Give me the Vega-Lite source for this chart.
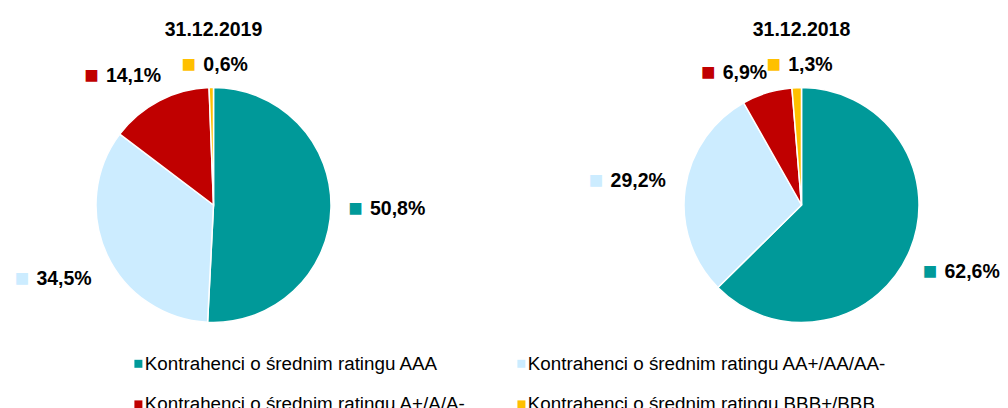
{
  "$schema": "https://vega.github.io/schema/vega-lite/v6.json",
  "background": "white",
  "padding": {"left": 4, "top": 19, "right": 0, "bottom": 0},
  "data": {
    "values": [
      {"date": "31.12.2019", "category": "Kontrahenci o średnim ratingu AAA", "rank": 1, "value": 50.8, "label": "50,8%"},
      {"date": "31.12.2019", "category": "Kontrahenci o średnim ratingu AA+/AA/AA-", "rank": 2, "value": 34.5, "label": "34,5%"},
      {"date": "31.12.2019", "category": "Kontrahenci o średnim ratingu A+/A/A-", "rank": 3, "value": 14.1, "label": "14,1%"},
      {"date": "31.12.2019", "category": "Kontrahenci o średnim ratingu BBB+/BBB", "rank": 4, "value": 0.6, "label": "0,6%"},
      {"date": "31.12.2018", "category": "Kontrahenci o średnim ratingu AAA", "rank": 1, "value": 62.6, "label": "62,6%"},
      {"date": "31.12.2018", "category": "Kontrahenci o średnim ratingu AA+/AA/AA-", "rank": 2, "value": 29.2, "label": "29,2%"},
      {"date": "31.12.2018", "category": "Kontrahenci o średnim ratingu A+/A/A-", "rank": 3, "value": 6.9, "label": "6,9%"},
      {"date": "31.12.2018", "category": "Kontrahenci o średnim ratingu BBB+/BBB", "rank": 4, "value": 1.3, "label": "1,3%"}
    ]
  },
  "facet": {
    "column": {
      "field": "date",
      "type": "nominal",
      "sort": ["31.12.2019", "31.12.2018"],
      "header": {
        "title": null,
        "labelFont": "Liberation Sans",
        "labelFontSize": 19.5,
        "labelFontWeight": "bold",
        "labelColor": "#000000",
        "labelPadding": 15
      }
    }
  },
  "spacing": 171,
  "bounds": "flush",
  "spec": {
    "width": 417,
    "height": 300,
    "encoding": {
      "theta": {"field": "value", "type": "quantitative", "stack": true},
      "order": {"field": "rank", "type": "quantitative"},
      "radius": {"field": "value", "type": "quantitative", "scale": {"type": "linear", "domain": [0, 30], "range": [139, 175], "clamp": true, "zero": false}},
      "color": {
        "field": "category",
        "type": "nominal",
        "scale": {
          "domain": [
            "Kontrahenci o średnim ratingu AAA",
            "Kontrahenci o średnim ratingu AA+/AA/AA-",
            "Kontrahenci o średnim ratingu A+/A/A-",
            "Kontrahenci o średnim ratingu BBB+/BBB"
          ],
          "range": ["#009999", "#CCECFF", "#C00000", "#FFC000"]
        },
        "legend": {
          "orient": "none",
          "legendX": 124,
          "legendY": 299,
          "direction": "horizontal",
          "columns": 2,
          "title": null,
          "symbolType": "square",
          "symbolSize": 64,
          "symbolOpacity": 1,
          "symbolStrokeWidth": 0,
          "labelFont": "Liberation Sans",
          "labelFontSize": 18.8,
          "labelColor": "#000000",
          "labelLimit": 500,
          "labelOffset": -3,
          "columnPadding": 46,
          "rowPadding": 21,
          "padding": 0
        }
      }
    },
    "layer": [
      {
        "mark": {"type": "arc", "outerRadius": 117.5, "stroke": "white", "strokeWidth": 1.5},
        "encoding": {"radius": null}
      },
      {
        "mark": {"type": "text", "dx": -33, "align": "center", "baseline": "middle", "font": "Liberation Sans", "fontSize": 24},
        "encoding": {"text": {"condition": {"test": "datum.rank <= 2", "value": "■"}, "value": ""}}
      },
      {
        "mark": {"type": "text", "dx": -18.5, "align": "left", "baseline": "middle", "font": "Liberation Sans", "fontSize": 19.5, "fontWeight": "bold"},
        "encoding": {
          "text": {"condition": {"test": "datum.rank <= 2", "field": "label"}, "value": ""},
          "color": {"value": "#000000"}
        }
      },
      {
        "mark": {"type": "text", "dx": -50, "dy": 9, "align": "center", "baseline": "middle", "font": "Liberation Sans", "fontSize": 24},
        "encoding": {"text": {"condition": {"test": "datum.rank == 3", "value": "■"}, "value": ""}}
      },
      {
        "mark": {"type": "text", "dx": -35.5, "dy": 9, "align": "left", "baseline": "middle", "font": "Liberation Sans", "fontSize": 19.5, "fontWeight": "bold"},
        "encoding": {
          "text": {"condition": {"test": "datum.rank == 3", "field": "label"}, "value": ""},
          "color": {"value": "#000000"}
        }
      },
      {
        "mark": {"type": "text", "dx": -22, "align": "center", "baseline": "middle", "font": "Liberation Sans", "fontSize": 24},
        "encoding": {"text": {"condition": {"test": "datum.rank == 4", "value": "■"}, "value": ""}}
      },
      {
        "mark": {"type": "text", "dx": -7.5, "align": "left", "baseline": "middle", "font": "Liberation Sans", "fontSize": 19.5, "fontWeight": "bold"},
        "encoding": {
          "text": {"condition": {"test": "datum.rank == 4", "field": "label"}, "value": ""},
          "color": {"value": "#000000"}
        }
      }
    ]
  },
  "config": {"view": {"stroke": null}}
}
